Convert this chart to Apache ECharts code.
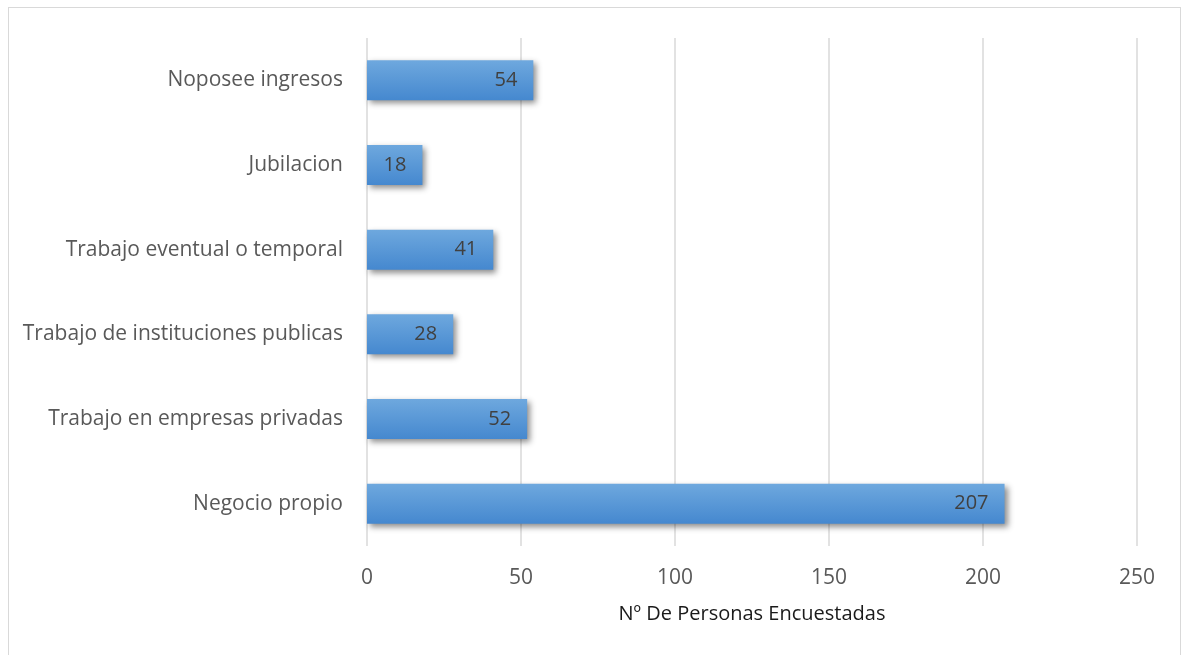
<!DOCTYPE html>
<html><head><meta charset="utf-8">
<script src="https://cdn.jsdelivr.net/npm/echarts@6/dist/echarts.min.js"></script>
<style>
html,body{margin:0;padding:0;background:#fff;}
#frame{position:absolute;left:8px;top:7px;width:1173px;height:660px;border:1px solid #d9d9d9;box-sizing:border-box;}
#c{position:absolute;left:0;top:0;width:1183px;height:655px;}
</style></head>
<body><div id="frame"></div><div id="c"></div>
<script>
const categories = ['Negocio propio','Trabajo en empresas privadas','Trabajo de instituciones publicas','Trabajo eventual o temporal','Jubilacion','Noposee ingresos'];
const values = [207, 52, 28, 41, 18, 54];
const axisTitle = 'Nº De Personas Encuestadas';
const font = "'Open Sans', 'Noto Sans', sans-serif";
const chart = echarts.init(document.getElementById('c'), null, {renderer:'canvas'});
chart.setOption({
  animation:false,
  grid:{left:367, right:46, top:38, bottom:109},
  xAxis:{type:'value', min:0, max:250, interval:50,
    name:axisTitle, nameLocation:'middle', nameGap:58,
    nameTextStyle:{color:'#1a1a1a', fontSize:20, fontFamily:font},
    axisLine:{show:false}, axisTick:{show:false},
    axisLabel:{color:'#595959', fontSize:21, fontFamily:font, margin:22},
    splitLine:{lineStyle:{color:'#d9d9d9', width:1.5}}},
  yAxis:{type:'category', data:categories,
    axisLine:{show:false}, axisTick:{show:false},
    axisLabel:{color:'#595959', fontSize:21, fontFamily:font, margin:24}},
  series:[{type:'bar', data:values, barWidth:40,
    itemStyle:{color:new echarts.graphic.LinearGradient(0,0,0,1,[{offset:0,color:'#6ea8de'},{offset:1,color:'#4588cf'}]),
      shadowColor:'rgba(0,0,0,0.45)', shadowBlur:6, shadowOffsetX:3, shadowOffsetY:3},
    label:{show:true, position:'insideRight', distance:16, color:'#404040', fontSize:20, fontFamily:font}}]
});
</script></body></html>
